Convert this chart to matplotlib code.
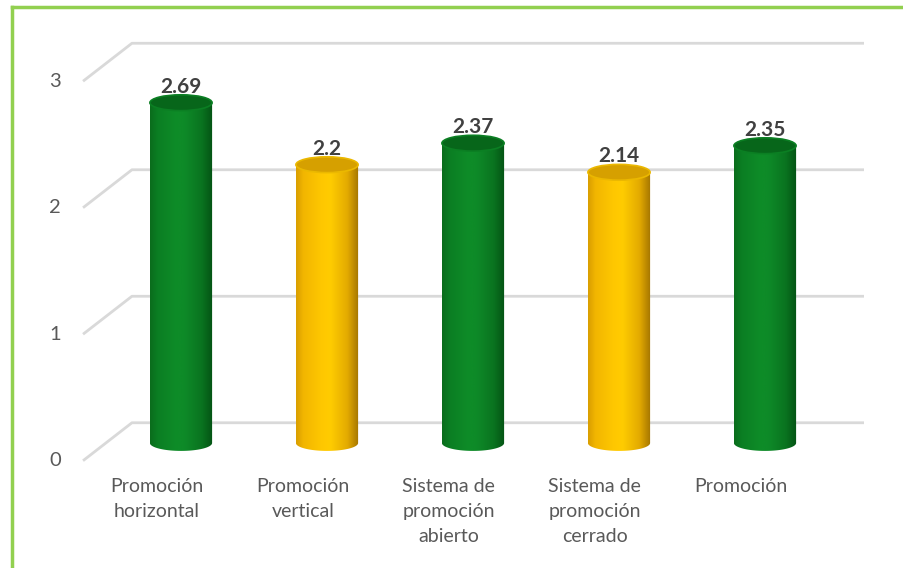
"""
3D-style cylinder bar chart: promoción scores by category.
"""
import matplotlib

matplotlib.use("Agg")
import matplotlib.pyplot as plt
import numpy as np
from matplotlib.colors import LinearSegmentedColormap
from matplotlib.lines import Line2D
from matplotlib.patches import Ellipse, PathPatch
from matplotlib.path import Path

categories = [
    "Promoción\nhorizontal",
    "Promoción\nvertical",
    "Sistema de\npromoción\nabierto",
    "Sistema de\npromoción\ncerrado",
    "Promoción",
]
values = [2.69, 2.2, 2.37, 2.14, 2.35]
value_labels = ["2.69", "2.2", "2.37", "2.14", "2.35"]
bar_kinds = ["green", "yellow", "green", "yellow", "green"]
y_ticks = [0, 1, 2, 3]

plt.rcParams["font.family"] = ["Lato", "DejaVu Sans"]

# pixel geometry of the original (baseline at 443 px, 126.5 px per unit, 146 px per bar)
PX_X0, PX_DX = 181.0, 146.0
PX_Y0, PX_DY = 443.0, 126.5
W, H = 904, 568

GRADIENTS = {
    "green": ["#0a6c1c", "#0b7e23", "#0e8c28", "#0e8a28", "#0a7420", "#045214"],
    "yellow": ["#d99e00", "#f2b600", "#ffc800", "#ffcc00", "#e3aa00", "#a37400"],
}
TOPS = {"green": ("#07661a", "#0b7f23"), "yellow": ("#d6a000", "#ebb800")}

fig = plt.figure(figsize=(W / 100, H / 100), dpi=100)
ax = fig.add_axes([0, 0, 1, 1])
ax.set_xlim(-PX_X0 / PX_DX, (W - PX_X0) / PX_DX)
ax.set_ylim((PX_Y0 - H) / PX_DY, PX_Y0 / PX_DY)
ax.axis("off")

# perspective gridlines: front edge -> back wall
front_dx, back_dx, right_x = -0.671, -0.336, 4.678
front_dy, back_dy = -0.14, 0.16
grid_col = "#d9d9d9"
for t in y_ticks:
    ax.plot([front_dx, back_dx, right_x], [t + front_dy, t + back_dy, t + back_dy],
            color=grid_col, lw=2, solid_capstyle="butt", zorder=1)
    ax.text(front_dx - 0.19, t + front_dy, str(t), ha="center", va="center",
            fontsize=14.5, color="#595959")

# cylinders
half_w = 0.213
ell_h = 0.125
for i, (v, kind) in enumerate(zip(values, bar_kinds)):
    x0, x1 = i - half_w, i + half_w
    theta = np.linspace(np.pi, 2 * np.pi, 60)
    arc_x = i + half_w * np.cos(theta)
    arc_y = ell_h / 2 * np.sin(theta)
    verts = [(x0, v)] + list(zip(arc_x, arc_y)) + [(x1, v), (x0, v)]
    codes = [Path.MOVETO] + [Path.LINETO] * (len(verts) - 2) + [Path.CLOSEPOLY]
    body = PathPatch(Path(verts, codes), facecolor="none", edgecolor="none")
    ax.add_patch(body)
    cmap = LinearSegmentedColormap.from_list(
        kind, list(zip([0, 0.12, 0.42, 0.55, 0.82, 1.0], GRADIENTS[kind])))
    grad = np.linspace(0, 1, 256).reshape(1, -1)
    im = ax.imshow(grad, cmap=cmap, extent=(x0, x1, -ell_h / 2, v), aspect="auto",
                   interpolation="bicubic", zorder=2)
    im.set_clip_path(body)
    top_fc, top_ec = TOPS[kind]
    ax.add_patch(Ellipse((i, v), 2 * half_w, ell_h, facecolor=top_fc,
                         edgecolor=top_ec, lw=1.2, zorder=3))
    ax.text(i, v + 0.08, value_labels[i], ha="center", va="baseline",
            fontsize=15, fontweight="bold", color="#404040", zorder=4)

# category labels (shifted left by perspective)
for i, lab in enumerate(categories):
    ax.text(i - 0.165, -0.28, lab, ha="center", va="top", fontsize=14,
            color="#595959", linespacing=1.55)

# light green frame (left and top edges)
fig.add_artist(Line2D([11.5 / W, 11.5 / W], [0, 1 - 7 / H], color="#92d050", lw=2.5))
fig.add_artist(Line2D([11.5 / W, 1], [1 - 7 / H, 1 - 7 / H], color="#92d050", lw=2.5))

fig.savefig("out.png", dpi=100)
